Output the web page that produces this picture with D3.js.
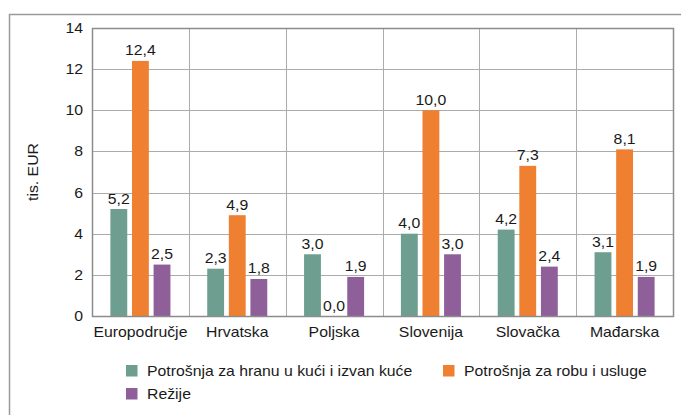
<!DOCTYPE html>
<html>
<head>
<meta charset="utf-8">
<script src="https://cdn.jsdelivr.net/npm/d3@7"></script>
<style>
  body { margin: 0; background: #fff; }
  text { font-family: "Liberation Sans", Arial, sans-serif; fill: #1a1a1a; }
</style>
</head>
<body>
<script>
const categories = ['Europodručje', 'Hrvatska', 'Poljska', 'Slovenija', 'Slovačka', 'Mađarska']
const seriesNames = ['Potrošnja za hranu u kući i izvan kuće', 'Potrošnja za robu i usluge', 'Režije']
const hrana = [5.2, 2.3, 3.0, 4.0, 4.2, 3.1]
const roba = [12.4, 4.9, 0.0, 10.0, 7.3, 8.1]
const rezije = [2.5, 1.8, 1.9, 3.0, 2.4, 1.9]
const yTicks = [0, 2, 4, 6, 8, 10, 12, 14]
const colors = ['#6d9e8f', '#ef7f31', '#8f5f9a']

const values = [hrana, roba, rezije]

const W = 681, H = 415
const margin = { top: 28, right: 8, bottom: 99, left: 92 },
    width = W - margin.left - margin.right,
    height = H - margin.top - margin.bottom

// the original text is a bit wider than Arial at its height
const stretch = 1.13
const tf = (x, y) => `translate(${x},${y}) scale(${stretch},1)`

const root = d3.select('body').append('svg')
    .attr('width', W)
    .attr('height', H)

// outer frame
root.append('path')
    .attr('d', `M9.5,${H} V14.5 H${W}`)
    .attr('fill', 'none')
    .attr('stroke', '#9a9a9a')
    .attr('stroke-width', 1.5)

const svg = root.append('g')
    .attr('transform', `translate(${margin.left},${margin.top})`)

const y = d3.scaleLinear().domain([0, 14]).range([height, 0])
const x0 = d3.scaleBand().domain(categories).range([0, width])
const x1 = d3.scaleBand().domain([0, 1, 2])
    .range([x0.bandwidth() * 0.19, x0.bandwidth() * 0.81])
    .paddingInner(0.22)

// grid
svg.append('g').selectAll('line').data(yTicks).enter().append('line')
    .attr('x1', 0).attr('x2', width)
    .attr('y1', d => Math.round(y(d)) + 0.5).attr('y2', d => Math.round(y(d)) + 0.5)
    .attr('stroke', '#ababab')
svg.append('g').selectAll('line').data(categories.slice(1)).enter().append('line')
    .attr('x1', d => Math.round(x0(d)) + 0.5).attr('x2', d => Math.round(x0(d)) + 0.5)
    .attr('y1', 0).attr('y2', height)
    .attr('stroke', '#ababab')

// bars + value labels
values.forEach((vals, s) => {
    svg.append('g').selectAll('rect').data(vals).enter().append('rect')
        .attr('x', (d, i) => x0(categories[i]) + x1(s))
        .attr('y', d => y(d))
        .attr('width', x1.bandwidth())
        .attr('height', d => height - y(d))
        .attr('fill', colors[s])
    svg.append('g').selectAll('text').data(vals).enter().append('text')
        .attr('transform', (d, i) => tf(x0(categories[i]) + x1(s) + x1.bandwidth() / 2, y(d) - 5.5))
        .attr('text-anchor', 'middle')
        .attr('font-size', 14)
        .text(d => d3.format('.1f')(d).replace('.', ','))
})

// plot border
svg.append('rect')
    .attr('x', 0.5).attr('y', 0.5)
    .attr('width', width).attr('height', height)
    .attr('fill', 'none')
    .attr('stroke', '#8c8c8c')
    .attr('stroke-width', 1.5)

// y axis labels
svg.append('g').selectAll('text').data(yTicks).enter().append('text')
    .attr('transform', d => tf(-9, y(d) + 5))
    .attr('text-anchor', 'end')
    .attr('font-size', 14)
    .text(d => d)

svg.append('text')
    .attr('transform', `translate(-54,${height / 2}) rotate(-90) scale(${stretch},1)`)
    .attr('text-anchor', 'middle')
    .attr('font-size', 14)
    .text('tis. EUR')

// x axis labels
svg.append('g').selectAll('text').data(categories).enter().append('text')
    .attr('transform', d => tf(x0(d) + x0.bandwidth() / 2, height + 21))
    .attr('text-anchor', 'middle')
    .attr('font-size', 14)
    .text(d => d)

// legend
const legendPos = [[126, 365], [443, 365], [126, 388]]
const legend = root.append('g')
seriesNames.forEach((name, i) => {
    const [lx, ly] = legendPos[i]
    legend.append('rect')
        .attr('x', lx).attr('y', ly)
        .attr('width', 11.5).attr('height', 11.5)
        .attr('fill', colors[i])
    legend.append('text')
        .attr('transform', tf(lx + 21, ly + 11))
        .attr('font-size', 14)
        .text(name)
})
</script>
</body>
</html>
